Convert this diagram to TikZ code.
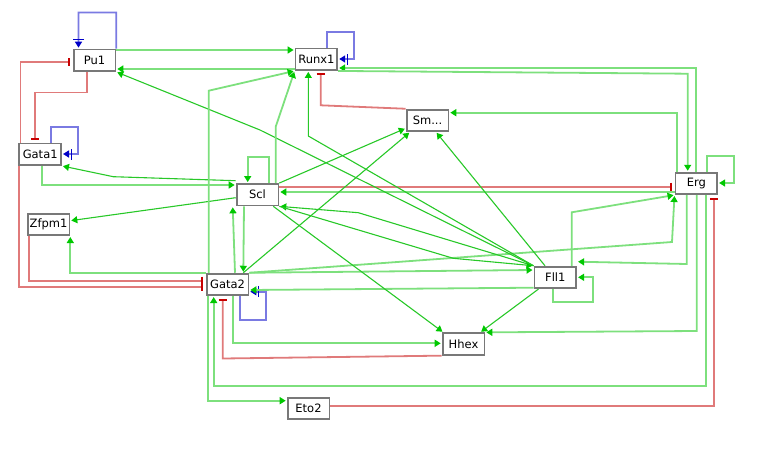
\documentclass[tikz,border=0pt]{standalone}
\usepackage{fontspec}
\setmainfont{DejaVu Sans}
\usetikzlibrary{arrows.meta,backgrounds}

\definecolor{boxline}{RGB}{120,120,120}
\definecolor{actline}{RGB}{125,224,125}
\definecolor{actdark}{RGB}{40,200,40}
\definecolor{acttip}{RGB}{0,200,0}
\definecolor{inhline}{RGB}{224,122,122}
\definecolor{inhtip}{RGB}{200,0,0}
\definecolor{dualline}{RGB}{122,122,226}
\definecolor{dualtip}{RGB}{0,0,200}

\tikzset{
  gene/.style={draw=boxline, line width=1.8pt, fill=white,
    minimum width=41.8pt, minimum height=21.5pt, inner sep=0pt,
    font=\fontsize{11.5}{13}\selectfont},
  act/.style={draw=actline, line width=1.8pt,
    -{Triangle[length=6pt,width=7pt,color=acttip]}, shorten >=1pt},
  actthin/.style={act, draw=actdark, line width=1.1pt},
  inh/.style={draw=inhline, line width=1.8pt,
    -{Bar[width=8pt,line width=2pt,color=inhtip]}, shorten >=2.5pt},
  dual/.style={draw=dualline, line width=1.8pt,
    -{Bar[width=11pt,line width=1.6pt,color=dualtip,sep=1.5pt]Triangle[length=6pt,width=7pt,color=dualtip]},
    shorten >=1pt}
}

\begin{document}
\begin{tikzpicture}[x=1pt,y=-1pt]
\useasboundingbox (0,0) rectangle (775,466);

% genes
\node[gene] (pu1)   at (94.5,60.3)  {Pu1};
\node[gene] (gata1) at (40.2,154.3) {Gata1};
\node[gene] (runx1) at (316.4,59.3) {Runx1};
\node[gene] (sm)    at (427.5,120.4) {Sm...};
\node[gene] (erg)   at (696.3,183.4) {Erg};
\node[gene] (fll1)  at (555.3,277.4) {Fll1};
\node[gene] (scl)   at (257.5,194.7) {Scl};
\node[gene] (zfpm1) at (48.5,224.4) {Zfpm1};
\node[gene] (gata2) at (227.5,284.4) {Gata2};
\node[gene] (hhex)  at (463.5,344)  {Hhex};
\node[gene] (eto2)  at (308.5,408.4) {Eto2};

\begin{pgfonlayer}{background}
% self regulation, both signs
\draw[dual] (pu1.north east) -- (116.3,12.5) -- (78.5,12.5) -- (pu1.north -| 78.5,0);
\draw[dual] (gata1.north -| 50.7,0) -- (50.7,126.7) -- (78,126.7) -- (78,154) -- (gata1.east |- 0,154);
\draw[dual] (runx1.north -| 326.7,0) -- (326.7,32) -- (354.3,32) -- (354.3,59) -- (runx1.east |- 0,59);
\draw[dual] (gata2.south -| 240,0) -- (240,320) -- (265.7,320) -- (265.7,291.7) -- (gata2.east |- 0,291.7);

% inhibitions
\draw[inh] (pu1.south -| 87.3,0) -- (87.3,92.5) -- (34.7,92.5) -- (gata1.north -| 34.7,0);
\draw[inh] (gata1.north -| 20.5,0) -- (20.5,62.3) -- (pu1.west |- 0,62.3);
\draw[inh] (sm.north west) -- (320.7,105.3) -- (runx1.south -| 320.7,0);
\draw[inh] (scl.east |- 0,186.7) -- (erg.west |- 0,186.7);
\draw[inh] (zfpm1.south -| 29.3,0) -- (29.3,280.7) -- (gata2.west |- 0,280.7);
\draw[inh] (gata1.south -| 19,0) -- (19,287.3) -- (gata2.west |- 0,287.3);
\draw[inh] (hhex.south west) -- (222.7,358.5) -- (gata2.south -| 222.7,0);
\draw[inh] (eto2.east |- 0,406) -- (714,406) -- (erg.south -| 714,0);

% activations
\draw[act] (pu1.east |- 0,50) -- (runx1.west |- 0,50);
\draw[act] (runx1.west |- 0,69) -- (pu1.east |- 0,69);
\draw[act] (erg.north -| 696,0) -- (696,68) -- (runx1.east |- 0,68);
\draw[act] (runx1.south east) -- (687.7,73.7) -- (erg.north -| 687.7,0);
\draw[act] (erg.north -| 676.7,0) -- (676.7,112.7) -- (sm.east |- 0,112.7);
\draw[act] (erg.north -| 706.7,0) -- (706.7,156) -- (733.7,156) -- (733.7,183) -- (erg.east |- 0,183);
\draw[act] (erg.west |- 0,192) -- (scl.east |- 0,192);
\draw[act] (erg.south -| 686.7,0) -- (686.7,264) -- (fll1.east |- 0,261.7);
\draw[act] (erg.south -| 696.7,0) -- (696.7,331) -- (hhex.north east);
\draw[act] (erg.south -| 706,0) -- (706,385.7) -- (213.7,385.7) -- (gata2.south -| 213.7,0);
\draw[act] (fll1.north -| 571.7,0) -- (571.7,212.3) -- (erg.south west);
\draw[act] (gata2.north east) -- (672,242) -- (erg.south west);
\draw[act] (fll1.south -| 552.7,0) -- (552.7,301.7) -- (592.7,301.7) -- (592.7,277.3) -- (fll1.east |- 0,277.3);
\draw[act] (fll1.west |- 0,287.7) -- (gata2.east |- 0,290);
\draw[act] (gata2.north east) -- (fll1.west |- 0,270);
\draw[actthin] ([xshift=5pt]fll1.south west) -- ([xshift=-5pt]hhex.north east);
\draw[actthin] (fll1.north west) -- (358.3,212.7) -- (scl.south east);
\draw[actthin] (scl.south east) -- (453.3,258.3) -- (fll1.north west);
\draw[actthin] (fll1.north west) -- (260,130) -- (pu1.south east);
\draw[actthin] (fll1.north west) -- (308.3,136) -- (runx1.south -| 308.3,0);
\draw[actthin] (fll1.north -| 545,0) -- (sm.south -| 436,0);
\draw[actthin] (gata2.north -| 243.3,0) -- (sm.south -| 410,0);
\draw[actthin] (scl.north east) -- (sm.west |- 0,128.3);
\draw[actthin] (scl.west |- 0,180.7) -- (113.3,176.7) -- (gata1.south east);
\draw[act] (gata1.south -| 41.7,0) -- (41.7,185) -- (scl.west |- 0,185);
\draw[actthin] (scl.west |- 0,197.7) -- (zfpm1.east |- 0,220.7);
\draw[act] (scl.north -| 269.3,0) -- (269.3,156.7) -- (247.7,156.7) -- (scl.north -| 247.7,0);
\draw[act] (scl.north -| 275.7,0) -- (275.7,126.7) -- (runx1.south west);
\draw[act] (gata2.north -| 208.7,0) -- (208.7,90.7) -- (runx1.south west);
\draw[act] (gata2.north -| 235,0) -- ([xshift=-3pt]scl.south west);
\draw[act] (scl.south -| 244,0) -- (gata2.north -| 243.3,0);
\draw[actthin] (scl.south -| 273.3,0) -- (hhex.north -| 443.3,0);
\draw[act] (gata2.north west) -- (zfpm1.south east |- gata2.north west) -- (zfpm1.south east);
\draw[act] (gata2.south -| 233.3,0) -- (233.3,343.3) -- (hhex.west |- 0,343.3);
\draw[act] (gata2.south -| 208.3,0) -- (208.3,400.7) -- (eto2.west |- 0,400.7);
\end{pgfonlayer}
\end{tikzpicture}
\end{document}
